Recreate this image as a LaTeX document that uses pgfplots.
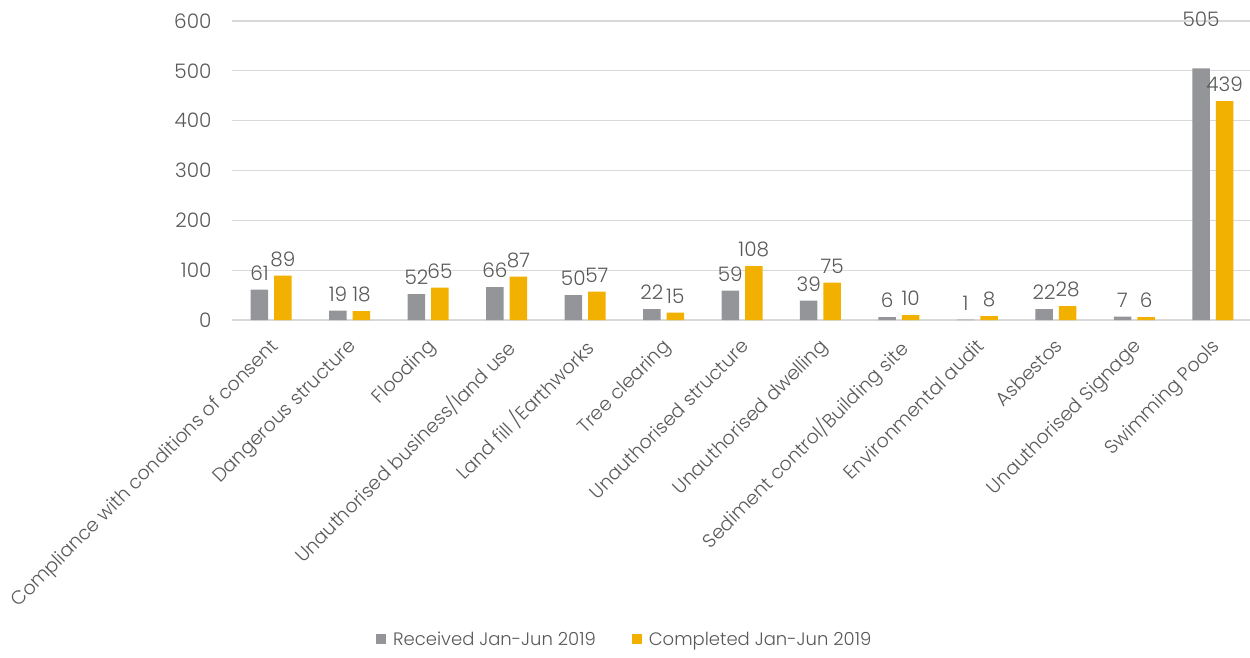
\documentclass[border=0pt]{standalone}
\usepackage{pgfplots}
\pgfplotsset{compat=1.18}
\usepackage{fontspec}
\setmainfont{Poppins}[UprightFont=* Light]
\definecolor{recv}{HTML}{939598}
\definecolor{comp}{HTML}{F2B100}
\definecolor{txt}{HTML}{595959}
\definecolor{gridc}{HTML}{D9D9D9}
\begin{document}
\begin{tikzpicture}[x=1pt,y=1pt]
\useasboundingbox (0,0) rectangle (1250,657);
\begin{axis}[
  at={(232pt,337pt)}, anchor=south west,
  scale only axis, width=1020pt, height=299pt,
  xmin=-0.5, xmax=12.5, ymin=0, ymax=600,
  clip=false,
  ytick={0,100,...,600},
  ymajorgrids, grid style={gridc, line width=1.3pt},
  axis line style={draw=none}, major tick length=0,
  xtick={0,...,12},
  xticklabels={Compliance with conditions of consent, Dangerous structure, Flooding, Unauthorised business/land use, Land fill /Earthworks, Tree clearing, Unauthorised structure, Unauthorised dwelling, Sediment control/Building site, Environmental audit, Asbestos, Unauthorised Signage, Swimming Pools},
  xticklabel style={rotate=45, anchor=north east, font=\fontsize{19}{21}\selectfont, text=txt, inner sep=0pt, xshift=-3pt},
  xticklabel shift=15pt,
  yticklabel style={font=\fontsize{20}{21}\selectfont, text=txt, xshift=-17pt},
  /pgf/number format/assume math mode=true,
  ybar=6pt, bar width=17.5pt,
  nodes near coords,
  visualization depends on={y \as \rawy},
  every node near coord/.append style={font=\fontsize{20}{21}\selectfont, text=txt, inner sep=2pt, yshift={ifthenelse(\rawy>500,40,7)}},
  legend style={at={(0.385,-1.07)}, anchor=center, draw=none, legend columns=2, font=\fontsize{18}{20}\selectfont, text=txt,
    /tikz/every even column/.append style={column sep=34pt},
    /tikz/every odd column/.append style={column sep=5pt}},
  legend image code/.code={\fill[#1] (0pt,-4pt) rectangle (10pt,6pt);},
]
\addplot[fill=recv, draw=none] coordinates {(0,61) (1,19) (2,52) (3,66) (4,50) (5,22) (6,59) (7,39) (8,6) (9,1) (10,22) (11,7) (12,505)};
\addplot[fill=comp, draw=none] coordinates {(0,89) (1,18) (2,65) (3,87) (4,57) (5,15) (6,108) (7,75) (8,10) (9,8) (10,28) (11,6) (12,439)};
\legend{Received Jan-Jun 2019, Completed Jan-Jun 2019}
\end{axis}
\end{tikzpicture}
\end{document}
